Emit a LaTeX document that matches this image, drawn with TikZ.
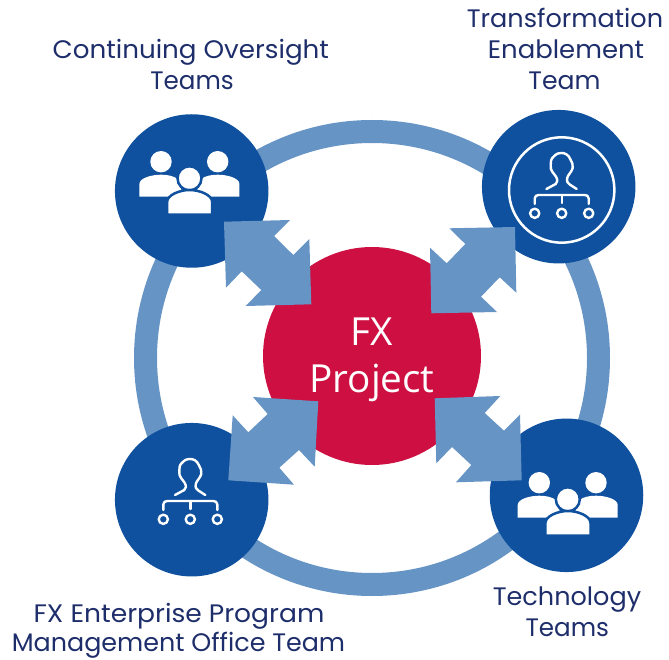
\documentclass[tikz,border=0pt]{standalone}
\usepackage{graphicx}
\usepackage{fontspec}
\setmainfont[FakeStretch=1.035]{Poppins}
\newfontfamily\redfont{Open Sans}
\definecolor{dblue}{HTML}{0F519E}
\definecolor{lblue}{HTML}{6594C5}
\definecolor{crim}{HTML}{CE0F41}
\definecolor{navy}{HTML}{1E2E6B}
\tikzset{
  teamdisc/.style={circle,fill=dblue,draw=none,minimum size=153.5pt,inner sep=0pt},
  lab/.style={anchor=base,text=navy,font=\fontsize{25.3pt}{25.3pt}\selectfont,inner sep=0pt},
  redlab/.style={anchor=base,text=white,font=\redfont\fontsize{38.7pt}{38.7pt}\selectfont,inner sep=0pt},
  dblarrow/.style={fill=lblue,draw=none},
  iconline/.style={draw=white,line width=2.4pt,line cap=round,line join=round},
  people/.pic={
    \fill[white] (-30.7,-29.3) circle (10.7);
    \fill[white] (26,-29.3) circle (10.7);
    \fill[white] (-52.3,5.7) -- (-52.3,-7) .. controls (-52.3,-13) and (-40,-16.3) .. (-30.7,-16.3) .. controls (-24,-16.3) and (-18,-15) .. (-14,-12) -- (-8,5.7) -- cycle;
    \fill[white] (47.7,5.7) -- (47.7,-7) .. controls (47.7,-13) and (35.4,-16.3) .. (26,-16.3) .. controls (19.4,-16.3) and (13.4,-15) .. (9.4,-12) -- (3,5.7) -- cycle;
    \filldraw[fill=white,draw=dblue,line width=2.5pt] (-2.2,-12.7) circle (12);
    \filldraw[fill=white,draw=dblue,line width=2.5pt] (-24.6,23.6) -- (-24.6,11) .. controls (-24.6,4) and (-12,-1) .. (-2.2,-1) .. controls (8,-1) and (20.5,4) .. (20.5,11) -- (20.5,23.6) -- cycle;
  },
  orgicon/.pic={
    \draw[iconline] (-15.3,-6) -- (-6,-11) .. controls (-4,-12.5) and (-4,-15) .. (-5.5,-18) .. controls (-7,-21) and (-12,-24) .. (-11,-30) .. controls (-11,-33) and (-11,-36) .. (-8,-38.5) .. controls (-5,-41.5) and (-3,-42) .. (-1,-42) .. controls (3,-42.5) and (7,-40) .. (8.5,-36) .. controls (10,-33) and (12,-30) .. (11,-27) .. controls (10,-23) and (6,-20) .. (5.5,-17) .. controls (5,-13.5) and (5.5,-12) .. (8,-10.5) -- (15,-6);
    \draw[iconline] (-27,9) -- (-27,3.5) .. controls (-27,1) and (-25,0) .. (-23,0) -- (23,0) .. controls (25,0) and (27,1) .. (27,3.5) -- (27,9);
    \draw[iconline] (0,0) -- (0,8);
    \draw[iconline] (-27,18.3) circle (4.6);
    \draw[iconline] (0,18.3) circle (4.6);
    \draw[iconline] (27,18.3) circle (4.6);
  }
}
\begin{document}
\begin{tikzpicture}[x=1pt,y=-1pt]
\useasboundingbox (0,0) rectangle (669,660);
% ring
\draw[lblue,line width=23pt] (372,358) circle (226.5);
% discs
\node[teamdisc] (tl) at (191.7,191) {};
\node[teamdisc] (tr) at (558.7,186.7) {};
\node[teamdisc] (bl) at (191.7,499.7) {};
\node[teamdisc] (br) at (566.5,495.3) {};
% centre
\node[circle,fill=crim,draw=none,minimum size=218pt,inner sep=0pt] (fx) at (372,356) {};
% icons
\pic at (tl) {people};
\pic at (570,512) {people};
\pic at (561.7,195) {orgicon};
\pic at (190.3,501) {orgicon};
\draw[white,line width=2.5pt] (561.7,190) circle (52.7);
% arrows
\fill[dblarrow] (224,221.7) -- (290,220) -- (274,236) -- (293.3,255) -- (309.3,239) -- (311.3,304.3) -- (245.7,306) -- (261.3,290) -- (241.7,271.3) -- (226,287.7) -- cycle;
\fill[dblarrow] (515,227) -- (449.3,228.3) -- (465.3,244) -- (446.7,263.3) -- (430,247.7) -- (431.3,313.3) -- (497,312) -- (481,296.7) -- (499.7,277.3) -- (516.3,292.7) -- cycle;
\fill[dblarrow] (318.3,401.3) -- (253,397) -- (267.7,414) -- (248.3,432.3) -- (232.7,415.3) -- (228.3,480.3) -- (294,484.7) -- (279.3,467.7) -- (299,450) -- (314.7,466.7) -- cycle;
\fill[dblarrow] (434.7,398.3) -- (500.3,396) -- (484.7,413) -- (504,430.7) -- (520,414.7) -- (521.7,480.3) -- (456,482.3) -- (471.3,465) -- (452,447) -- (436.3,463.3) -- cycle;
% labels
\node[lab] (a1) at (190.8,59) {Continuing Oversight};
\node[lab] (a2) at (192,90) {\scalebox{.94}[1]{Teams}};
\node[lab] (b1) at (565,28) {\scalebox{.975}[1]{Transformation}};
\node[lab] (b2) at (566,59) {\scalebox{.99}[1]{Enablement}};
\node[lab] (b3) at (564.5,90) {\scalebox{.96}[1]{Team}};
\node[lab] (c1) at (179,622) {\scalebox{1.014}[1]{FX Enterprise Program}};
\node[lab] (c2) at (178.5,651) {\scalebox{.97}[1]{Management Office Team}};
\node[lab] (d1) at (567,605.5) {\scalebox{.975}[1]{Technology}};
\node[lab] (d2) at (567.3,636) {\scalebox{.94}[1]{Teams}};
\node[redlab] (e1) at (372,345) {FX};
\node[redlab] (e2) at (372,392) {Project};
\end{tikzpicture}
\end{document}
